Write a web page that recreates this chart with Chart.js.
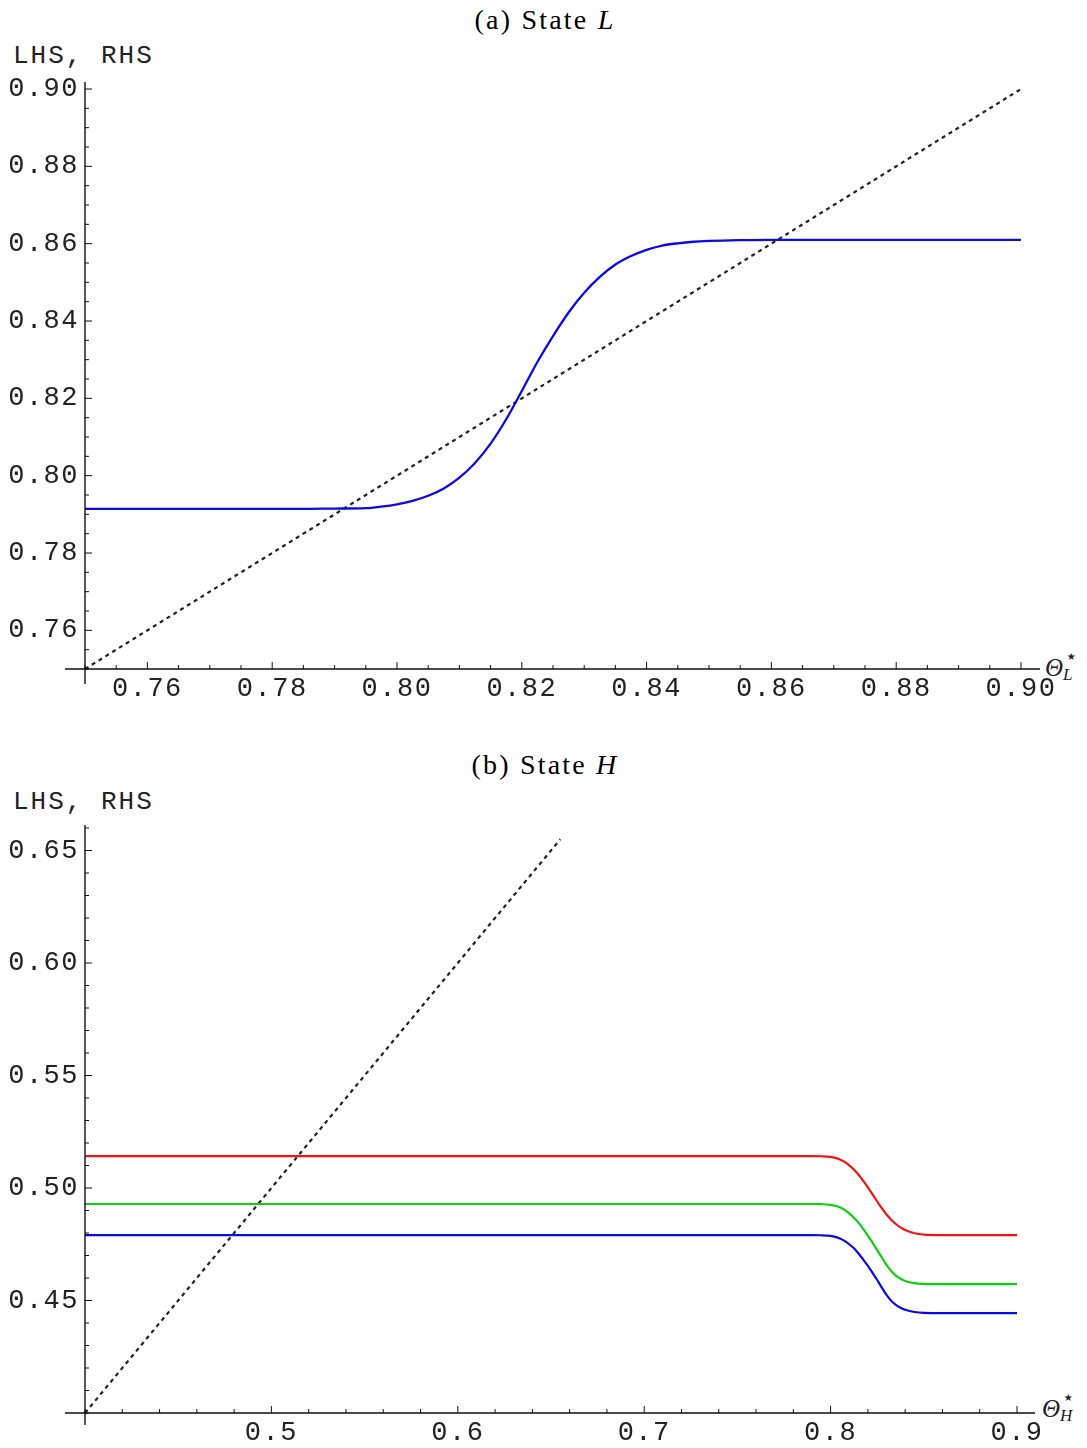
<!DOCTYPE html>
<html>
<head>
<meta charset="utf-8">
<script src="https://cdn.jsdelivr.net/npm/chart.js@4.4.0/dist/chart.umd.min.js"></script>
<style>
  body { margin: 0; background: #fff; }
  #page { position: relative; width: 1087px; height: 1448px; overflow: hidden; }
  canvas { position: absolute; left: 0; }
  .title { position: absolute; left: 0; width: 1090px; text-align: center; font-family: "Liberation Serif", serif; font-size: 28px; letter-spacing: 2.2px; line-height: 1; color: #000; }
  .ylab { position: absolute; left: 13px; font-family: "Liberation Mono", monospace; font-size: 26px; letter-spacing: 2px; line-height: 1; color: #222; white-space: pre; }
  .th { position: absolute; font-family: "Liberation Serif", serif; font-size: 25px; line-height: 1; color: #222; }
  .th .st { position: absolute; left: 20px; top: -9px; font-size: 20px; font-family: "DejaVu Sans", sans-serif; }
  .th .sb { position: absolute; left: 18px; top: 11px; font-size: 17px; font-style: italic; }
</style>
</head>
<body>
<div id="page">
  <div class="title" style="top:6px">(a) State <i>L</i></div>
  <div class="ylab" style="top:43px">LHS, RHS</div>
  <div class="th" style="left:1045px;top:655px"><i>Θ</i><span class="st">⋆</span><span class="sb">L</span></div>
  <canvas id="chartL" width="1087" height="724" style="top:0"></canvas>

  <div class="title" style="top:751px">(b) State <i>H</i></div>
  <div class="ylab" style="top:789px">LHS, RHS</div>
  <div class="th" style="left:1042px;top:1396px"><i>Θ</i><span class="st">⋆</span><span class="sb">H</span></div>
  <canvas id="chartH" width="1087" height="724" style="top:724px"></canvas>
</div>

<script>
// ---- panel (a): state L ----
const xLabelsL = ['0.76', '0.78', '0.80', '0.82', '0.84', '0.86', '0.88', '0.90'];
const yLabelsL = ['0.76', '0.78', '0.80', '0.82', '0.84', '0.86', '0.88', '0.90'];
const thetaL = [0.75, 0.77, 0.785, 0.79, 0.795, 0.7975, 0.80, 0.8025, 0.805, 0.8075, 0.81, 0.8125, 0.815, 0.8175,
                0.82, 0.8225, 0.825, 0.8275, 0.83, 0.8325, 0.835, 0.8375, 0.84, 0.8425, 0.845, 0.8475, 0.85,
                0.855, 0.86, 0.88, 0.90];
const lhsL = [0.7914, 0.7914, 0.7914, 0.7915, 0.7916, 0.7920, 0.7926, 0.7935, 0.7948, 0.7967, 0.7995, 0.8033, 0.8083, 0.8146,
              0.8219, 0.8294, 0.8361, 0.8422, 0.8473, 0.8514, 0.8546, 0.8568, 0.8584, 0.8595, 0.8601, 0.8605, 0.8607,
              0.8609, 0.8610, 0.8610, 0.8610];
const rhsXL = [0.75, 0.90];
const rhsYL = [0.75, 0.90];

// ---- panel (b): state H ----
const xLabelsH = ['0.5', '0.6', '0.7', '0.8', '0.9'];
const yLabelsH = ['0.45', '0.50', '0.55', '0.60', '0.65'];
const thetaH = [0.40, 0.60, 0.78, 0.79, 0.795, 0.80, 0.8025, 0.805, 0.8075, 0.81, 0.8125, 0.815, 0.8175, 0.82,
                0.8225, 0.825, 0.8275, 0.83, 0.8325, 0.835, 0.8375, 0.84, 0.845, 0.85, 0.86, 0.90];
const lhsRed   = [0.5142, 0.5142, 0.5142, 0.5142, 0.5141, 0.5138, 0.5134, 0.5127, 0.5116, 0.5101, 0.5082, 0.5059, 0.5032, 0.5003,
                  0.4972, 0.4940, 0.4910, 0.4882, 0.4859, 0.4840, 0.4825, 0.4813, 0.4799, 0.4793, 0.4791, 0.4791];
const lhsGreen = [0.4929, 0.4929, 0.4929, 0.4929, 0.4928, 0.4925, 0.4921, 0.4914, 0.4903, 0.4887, 0.4868, 0.4845, 0.4818, 0.4788,
                  0.4757, 0.4724, 0.4691, 0.4658, 0.4631, 0.4611, 0.4597, 0.4587, 0.4577, 0.4574, 0.4573, 0.4573];
const lhsBlue  = [0.4791, 0.4791, 0.4791, 0.4791, 0.4790, 0.4787, 0.4783, 0.4776, 0.4765, 0.4750, 0.4732, 0.4709, 0.4682, 0.4654,
                  0.4623, 0.4591, 0.4557, 0.4525, 0.4499, 0.4481, 0.4468, 0.4459, 0.4449, 0.4445, 0.4444, 0.4444];
const rhsXH = [0.40, 0.655];
const rhsYH = [0.40, 0.655];

function pts(xs, ys) {
  return xs.map((x, i) => ({ x: x, y: ys[i] }));
}

// Mathematica-like axes: lines crossing at the origin, inward major/minor ticks
const mathAxes = {
  id: 'mathAxes',
  beforeDraw(chart) {
    chart.ctx.letterSpacing = '1.5px';
  },
  afterDraw(chart, args, o) {
    const ctx = chart.ctx, xs = chart.scales.x, ys = chart.scales.y;
    const x0 = xs.getPixelForValue(xs.min), y0 = ys.getPixelForValue(ys.min);
    ctx.save();
    ctx.strokeStyle = '#111';
    ctx.lineWidth = 1.4;
    ctx.beginPath();
    ctx.moveTo(x0 - 20, y0); ctx.lineTo(xs.right + o.xOver, y0);
    ctx.moveTo(x0, y0 + o.yUnder); ctx.lineTo(x0, ys.top - o.yOver);
    ctx.stroke();

    ctx.lineWidth = 1;
    ctx.beginPath();
    const xMaj = o.xMajor.map(parseFloat), yMaj = o.yMajor.map(parseFloat);
    for (let i = 0; ; i++) {
      const v = xs.min + i * o.xMinor;
      if (v > xs.max + 1e-9) break;
      const big = xMaj.some(m => Math.abs(m - v) < 1e-7);
      const px = xs.getPixelForValue(v);
      ctx.moveTo(px, y0); ctx.lineTo(px, y0 - (big ? 7 : 4));
    }
    for (let i = 0; ; i++) {
      const v = ys.min + i * o.yMinor;
      if (v > ys.max + 1e-9) break;
      const big = yMaj.some(m => Math.abs(m - v) < 1e-7);
      const py = ys.getPixelForValue(v);
      ctx.moveTo(x0, py); ctx.lineTo(x0 + (big ? 7 : 4), py);
    }
    ctx.stroke();
    ctx.restore();
  }
};

const tickFont = { family: '"Liberation Mono", monospace', size: 27 };

function makeChart(id, datasets, xr, yr, xLabels, yLabels, pad, xH, axesOpts) {
  new Chart(document.getElementById(id), {
    type: 'line',
    data: { datasets: datasets },
    options: {
      responsive: false,
      animation: false,
      layout: { padding: pad },
      elements: { point: { radius: 0 } },
      scales: {
        x: {
          type: 'linear', min: xr[0], max: xr[1],
          grid: { display: false, drawTicks: false },
          border: { display: false },
          afterBuildTicks: s => { s.ticks = xLabels.map(t => ({ value: parseFloat(t) })); },
          afterFit: s => { s.height = xH; },
          ticks: { autoSkip: false, maxRotation: 0, padding: 4, color: '#222', font: tickFont,
                   callback: (v, i) => xLabels[i] }
        },
        y: {
          type: 'linear', min: yr[0], max: yr[1],
          grid: { display: false, drawTicks: false },
          border: { display: false },
          afterBuildTicks: s => { s.ticks = yLabels.map(t => ({ value: parseFloat(t) })); },
          afterFit: s => { s.width = 85; },
          ticks: { autoSkip: false, padding: 6, color: '#222', font: tickFont,
                   callback: (v, i) => yLabels[i] }
        }
      },
      plugins: {
        legend: { display: false },
        tooltip: { enabled: false },
        mathAxes: axesOpts
      }
    },
    plugins: [mathAxes]
  });
}

makeChart('chartL', [
    { data: pts(thetaL, lhsL), borderColor: '#0a0ae6', borderWidth: 2.3, cubicInterpolationMode: 'monotone', clip: false },
    { data: pts(rhsXL, rhsYL), borderColor: '#222', borderWidth: 2.2, borderDash: [4, 4], clip: false }
  ],
  [0.75, 0.90], [0.75, 0.90], xLabelsL, yLabelsL,
  { top: 89, right: 66, bottom: 0, left: 0 }, 55,
  { xOver: 19, yOver: 7, yUnder: 15, xMinor: 0.005, yMinor: 0.005, xMajor: xLabelsL, yMajor: yLabelsL });

makeChart('chartH', [
    { data: pts(thetaH, lhsRed), borderColor: '#f01414', borderWidth: 2.2, cubicInterpolationMode: 'monotone', clip: false },
    { data: pts(thetaH, lhsGreen), borderColor: '#10d010', borderWidth: 2.2, cubicInterpolationMode: 'monotone', clip: false },
    { data: pts(thetaH, lhsBlue), borderColor: '#0a0ae6', borderWidth: 2.2, cubicInterpolationMode: 'monotone', clip: false },
    { data: pts(rhsXH, rhsYH), borderColor: '#222', borderWidth: 2.2, borderDash: [4, 4], clip: false }
  ],
  [0.40, 0.90], [0.40, 0.66], xLabelsH, yLabelsH,
  { top: 104, right: 70, bottom: 0, left: 0 }, 35,
  { xOver: 18, yOver: 3, yUnder: 12, xMinor: 0.02, yMinor: 0.01, xMajor: xLabelsH, yMajor: yLabelsH });
</script>
</body>
</html>
